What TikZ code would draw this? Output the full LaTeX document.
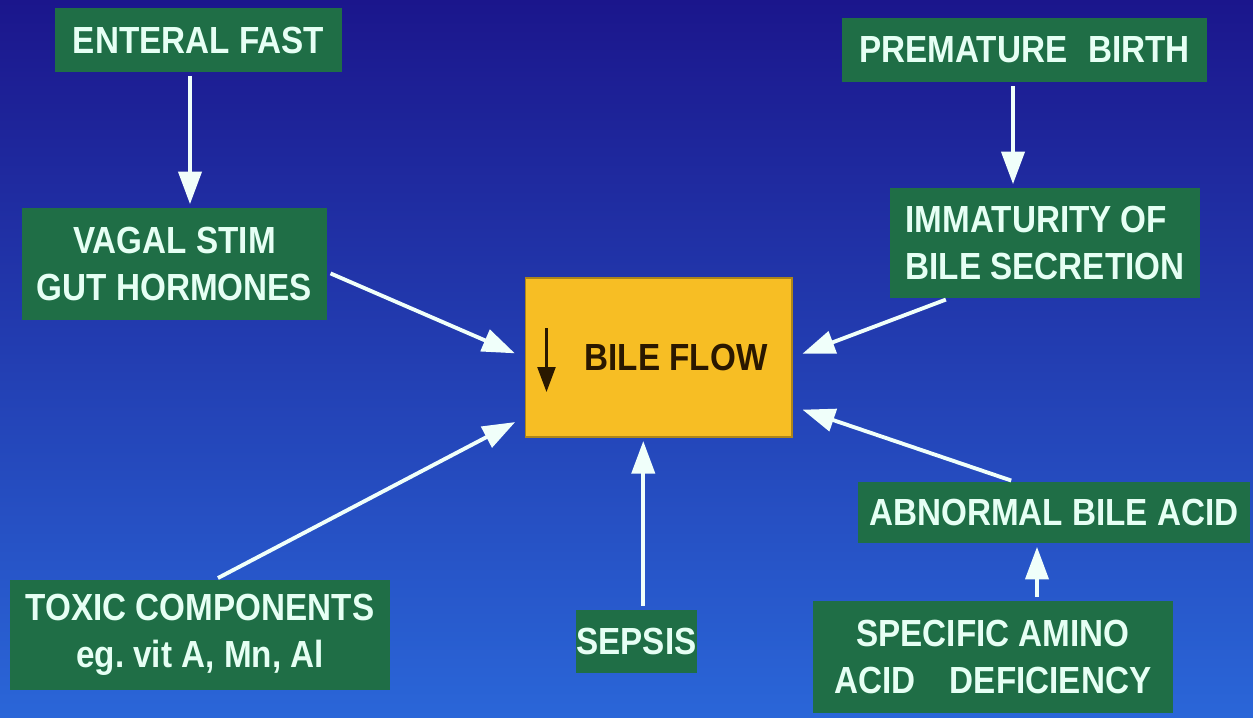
\documentclass[tikz,border=0pt]{standalone}
\usepackage{fontspec}
\setmainfont{Liberation Sans}[FakeStretch=0.88]
\usetikzlibrary{arrows.meta}
\definecolor{bgtop}{HTML}{1B168C}
\definecolor{bgmid}{HTML}{2247CC}
\definecolor{bgbot}{HTML}{2A66D8}
\definecolor{boxgreen}{HTML}{1F6E46}
\definecolor{boxtext}{HTML}{E6FFF4}
\definecolor{bileyellow}{HTML}{F7BE24}
\definecolor{biletext}{HTML}{2A1800}
\definecolor{arrowwhite}{HTML}{F0FFFA}

\begin{document}
\begin{tikzpicture}[
    x=0.02cm, y=-0.02cm,
    box/.style={rectangle, fill=boxgreen, text=boxtext, align=center, inner sep=0pt, font=\fontsize{21.5}{27}\selectfont\bfseries},
    bilebox/.style={rectangle, fill=bileyellow, draw=bileyellow!70!black, line width=0.6pt, text=biletext, inner sep=0pt, font=\fontsize{21.5}{27}\selectfont\bfseries},
    arrow/.style={-{Triangle[length=6.5mm, width=4.6mm]}, line width=2.2pt, draw=arrowwhite, fill=arrowwhite, shorten <=2pt, shorten >=2pt},
    flowtip/.style={-{Triangle[length=5mm, width=3.6mm]}, line width=1.3pt, draw=biletext}
]
% background
\shade[top color=bgtop, middle color=bgmid, bottom color=bgbot] (0,0) rectangle (1253,717);

% boxes
\node[box, minimum width=5.74cm, minimum height=1.28cm] (enteral) at (198.5,40) {ENTERAL FAST};
\node[box, minimum width=6.1cm, minimum height=2.24cm] (vagal) at (174.5,264) {VAGAL STIM\\GUT HORMONES};
\node[box, minimum width=7.3cm, minimum height=1.28cm] (premature) at (1024.5,50) {PREMATURE\hspace{0.55em}BIRTH};
\node[box, align=left, minimum width=6.2cm, minimum height=2.2cm] (immaturity) at (1045,243) {IMMATURITY OF\\BILE SECRETION};
\node[bilebox, minimum width=5.34cm, minimum height=3.18cm] (bile) at (658.5,357.5) {\hspace{0.7cm}BILE FLOW};
\node[box, minimum width=7.84cm, minimum height=1.22cm] (abnormal) at (1054,512.5) {ABNORMAL BILE ACID};
\node[box, minimum width=7.2cm, minimum height=2.24cm] (specific) at (993,657) {SPECIFIC AMINO\\ACID\hspace{0.9em}DEFICIENCY};
\node[box, minimum width=2.38cm, minimum height=1.26cm] (sepsis) at (636.5,641.5) {SEPSIS};
\node[box, minimum width=7.6cm, minimum height=2.2cm] (toxic) at (200,635) {TOXIC COMPONENTS\\eg.\ vit A, Mn, Al};

% arrow inside bile flow
\draw[flowtip] ([xshift=0.44cm, yshift=0.59cm]bile.west) -- ([xshift=0.44cm, yshift=-0.69cm]bile.west);

% connectors
\draw[arrow] ([xshift=-0.17cm]enteral.south) -- ([xshift=-0.17cm]enteral.south |- vagal.north);
\draw[arrow] ([xshift=-0.23cm]premature.south) -- ([xshift=-0.23cm]premature.south |- immaturity.north);
\draw[arrow] ([xshift=0.88cm]specific.north) -- ([xshift=0.88cm]specific.north |- abnormal.south);
\draw[arrow, shorten >=6pt] (vagal.357) -- (bile.west);
\draw[arrow, shorten >=6pt] (immaturity.210) -- (bile.east);
\draw[arrow, shorten >=6pt] (toxic.75) -- (bile.204);
\draw[arrow, shorten >=6pt] (abnormal.142) -- (bile.340);
\draw[arrow] (sepsis.78) -- (sepsis.78 |- bile.south);
\end{tikzpicture}
\end{document}
